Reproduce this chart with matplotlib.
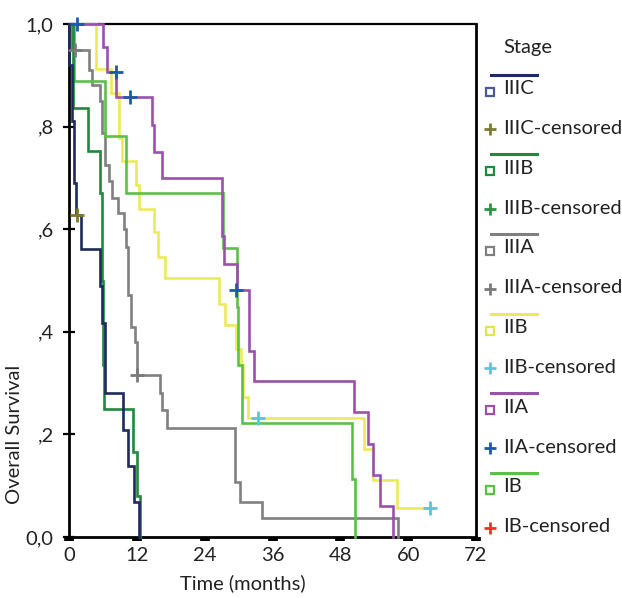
import matplotlib
matplotlib.use("Agg")
import matplotlib.pyplot as plt
from matplotlib.lines import Line2D

plt.rcParams['font.family'] = ['Lato', 'DejaVu Sans']

# ---------------- data ----------------
stages = ["IIIC", "IIIB", "IIIA", "IIB", "IIA", "IB"]

iiic_t = [0.05, 0.5, 0.9, 1.2, 2.1, 5.4, 5.9, 6.4, 9.5, 10.5, 11.5, 12.3]
iiic_s = [0.92, 0.81, 0.69, 0.628, 0.561, 0.489, 0.418, 0.28, 0.209, 0.138, 0.069, 0.0]
iiic_cens_t = [1.4]
iiic_cens_s = [0.628]

iiib_t = [0.7, 3.3, 5.4, 5.8, 5.9, 6.0, 6.1, 6.2, 11.3, 12.1, 12.5]
iiib_s = [0.837, 0.753, 0.67, 0.585, 0.50, 0.42, 0.335, 0.249, 0.166, 0.079, 0.0]
iiib_cens_t = []
iiib_cens_s = []

iiia_t = [0.4, 3.6, 4.0, 5.5, 5.8, 6.4, 7.0, 7.6, 8.7, 9.7, 10.1, 10.5, 10.9, 11.7, 12.1,
          16.1, 16.5, 17.3, 29.4, 30.2, 34.1, 58.2]
iiia_s = [0.949, 0.911, 0.881, 0.849, 0.787, 0.725, 0.693, 0.66, 0.631, 0.6, 0.566, 0.472,
          0.41, 0.381, 0.316, 0.28, 0.248, 0.212, 0.108, 0.069, 0.038, 0.0]
iiia_cens_t = [1.1, 12.1]
iiia_cens_s = [0.949, 0.316]

iib_t = [4.7, 7.4, 8.9, 9.3, 11.8, 12.3, 15.1, 15.8, 17.0, 26.6, 27.6, 29.5, 30.4, 30.7,
         31.6, 52.2, 53.7, 58.1]
iib_s = [0.913, 0.865, 0.777, 0.732, 0.686, 0.639, 0.595, 0.546, 0.504, 0.455, 0.413,
         0.366, 0.335, 0.272, 0.231, 0.171, 0.111, 0.056]
iib_end = 63.8
iib_cens_t = [33.5, 63.8]
iib_cens_s = [0.231, 0.056]

iia_t = [6.0, 6.7, 8.4, 14.7, 15.1, 16.5, 27.1, 27.5, 29.7, 31.9, 32.7, 50.5, 52.9, 53.7,
         55.0, 57.4]
iia_s = [0.956, 0.907, 0.857, 0.803, 0.751, 0.699, 0.587, 0.533, 0.481, 0.363, 0.304,
         0.244, 0.181, 0.12, 0.061, 0.0]
iia_cens_t = [1.4, 8.4, 10.8, 29.6]
iia_cens_s = [1.0, 0.906, 0.857, 0.481]

ib_t = [0.9, 6.4, 10.1, 27.3, 29.7, 29.85, 30.6, 50.0, 50.6]
ib_s = [0.889, 0.782, 0.67, 0.563, 0.449, 0.335, 0.222, 0.114, 0.0]
ib_cens_t = []
ib_cens_s = []

x_ticks = [0, 12, 24, 36, 48, 60, 72]
y_ticks = [0.0, 0.2, 0.4, 0.6, 0.8, 1.0]
y_ticklabels = ["0,0", ",2", ",4", ",6", ",8", "1,0"]

# ---------------- styles ----------------
line_colors = {"IIIC": "#1d2b5e", "IIIB": "#1e8a3c", "IIIA": "#808080",
               "IIB": "#ebeb5a", "IIA": "#9b50ae", "IB": "#5cbf48"}
cens_colors = {"IIIC": "#7b7b30", "IIIB": "#1f9a40", "IIIA": "#7a7a7a",
               "IIB": "#5ac6dc", "IIA": "#1f5aa8", "IB": "#ff2a2a"}
square_colors = {"IIIC": "#4a5a8c", "IIIB": "#1e8a3c", "IIIA": "#808080",
                 "IIB": "#e3e34a", "IIA": "#9b50ae", "IB": "#5cbf48"}

curves = {
    "IIIC": (iiic_t, iiic_s, None, iiic_cens_t, iiic_cens_s),
    "IIIB": (iiib_t, iiib_s, None, iiib_cens_t, iiib_cens_s),
    "IIIA": (iiia_t, iiia_s, None, iiia_cens_t, iiia_cens_s),
    "IIB": (iib_t, iib_s, iib_end, iib_cens_t, iib_cens_s),
    "IIA": (iia_t, iia_s, None, iia_cens_t, iia_cens_s),
    "IB": (ib_t, ib_s, None, ib_cens_t, ib_cens_s),
}

W, H = 622, 598
fig = plt.figure(figsize=(W / 100, H / 100), dpi=100)
ax = fig.add_axes([69 / W, 1 - 537 / H, (476 - 69) / W, (537 - 24) / H])

draw_order = ["IIIA", "IIB", "IB", "IIA", "IIIB", "IIIC"]
for st in draw_order:
    t, s, end, ct, cs = curves[st]
    xs = [0.0] + list(t)
    ys = [1.0] + list(s)
    if end is not None:
        xs.append(end)
        ys.append(ys[-1])
    ax.step(xs, ys, where='post', color=line_colors[st], lw=1.9, zorder=3,
            clip_on=False, solid_joinstyle='miter')
for st in draw_order:
    t, s, end, ct, cs = curves[st]
    if ct:
        ax.plot(ct, cs, linestyle='none', marker='+', ms=10, mew=2,
                color=cens_colors[st], zorder=4, clip_on=False)

ax.set_xlim(0, 72)
ax.set_ylim(0, 1)
ax.set_xticks(x_ticks)
ax.set_xticklabels([str(v) for v in x_ticks])
ax.set_yticks(y_ticks)
ax.set_yticklabels(y_ticklabels)

for side in ['left', 'bottom', 'right']:
    ax.spines[side].set_linewidth(2.0)
ax.spines['top'].set_linewidth(1.6)
for sp in ax.spines.values():
    sp.set_color('black')

FS = 14.5
ax.tick_params(axis='x', direction='out', length=3, width=7, pad=4,
               labelsize=FS, labelcolor='#222222')
ax.tick_params(axis='y', direction='inout', length=8, width=1.6, pad=7,
               labelsize=FS, labelcolor='#222222')

def fx(px):
    return px / W

def fy(py):
    return 1 - py / H

fig.text(fx(15), fy(434), "Overall Survival", rotation=90, ha='center', va='center',
         fontsize=FS, color='#222222')
fig.text(fx(243), fy(583), "Time (months)", ha='center', va='center',
         fontsize=FS, color='#222222')

# ---------------- legend ----------------
fig.text(fx(503), fy(48), "Stage", ha='left', va='center', fontsize=FS, color='#222222')
y0 = 88.5
dy = 39.85
k = 0
for st in stages:
    yl = y0 + dy * k
    fig.add_artist(Line2D([fx(491), fx(537)], [fy(yl - 14), fy(yl - 14)],
                          color=line_colors[st], lw=2.2))
    fig.add_artist(Line2D([fx(490)], [fy(yl + 3)], marker='s', ms=5.5, mew=1.6,
                          mfc='white', mec=square_colors[st], linestyle='none'))
    fig.text(fx(503), fy(yl), st, ha='left', va='center', fontsize=FS, color='#222222')
    k += 1
    yl = y0 + dy * k
    fig.add_artist(Line2D([fx(490)], [fy(yl + 1)], marker='+', ms=9, mew=2,
                          color=cens_colors[st], linestyle='none'))
    fig.text(fx(503), fy(yl), st + "-censored", ha='left', va='center', fontsize=FS,
             color='#222222')
    k += 1

fig.savefig("out.png", dpi=100)
